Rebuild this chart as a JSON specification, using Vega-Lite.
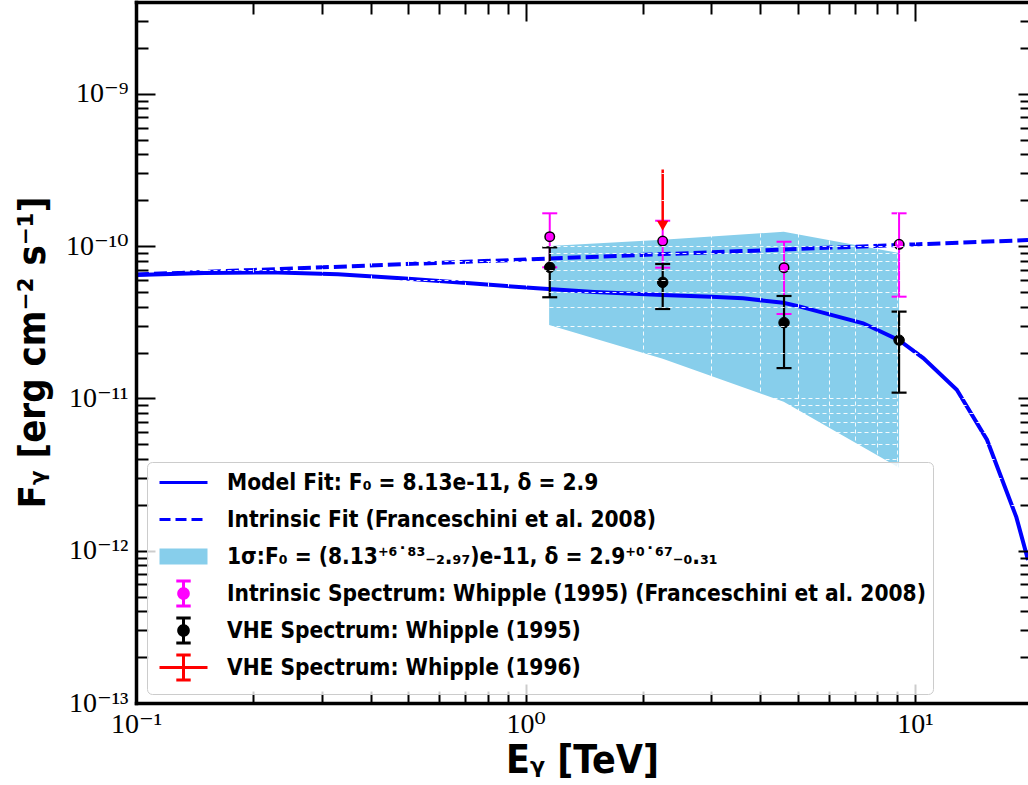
{
 "$schema": "https://vega.github.io/schema/vega-lite/v6.json",
 "width": 892, "height": 701,
 "padding": {"left": 136, "top": 2, "right": 0, "bottom": 82},
 "autosize": {"type": "none"},
 "background": "white",
 "config": {"view": {"stroke": null}, "axis": {"domainColor": "black", "tickColor": "black", "labelColor": "black", "titleColor": "black", "grid": false}},
 "datasets": {
  "band": [
   {"E": 1.15, "lo": 3.03e-11, "hi": 1.0e-10, "series": "band"},
   {"E": 2.25, "lo": 1.82e-11, "hi": 1.1e-10, "series": "band"},
   {"E": 4.6, "lo": 9.5e-12, "hi": 1.24e-10, "series": "band"},
   {"E": 9.1, "lo": 3.5e-12, "hi": 9.0e-11, "series": "band"}
  ],
  "model": [
   {"E": 0.1, "F": 6.45e-11}, {"E": 0.15, "F": 6.65e-11}, {"E": 0.22, "F": 6.73e-11},
   {"E": 0.33, "F": 6.52e-11}, {"E": 0.49, "F": 6.13e-11}, {"E": 0.72, "F": 5.69e-11},
   {"E": 1.07, "F": 5.28e-11}, {"E": 1.5, "F": 5.0e-11}, {"E": 2.25, "F": 4.77e-11},
   {"E": 3.0, "F": 4.65e-11}, {"E": 3.62, "F": 4.54e-11}, {"E": 4.59, "F": 4.24e-11},
   {"E": 5.07, "F": 4.0e-11}, {"E": 7.36, "F": 3.11e-11}, {"E": 9.1, "F": 2.41e-11},
   {"E": 10.5, "F": 1.84e-11}, {"E": 12.8, "F": 1.14e-11}, {"E": 15.3, "F": 5.35e-12},
   {"E": 18.2, "F": 1.66e-12}, {"E": 19.5, "F": 8.7e-13}
  ],
  "intr": [
   {"E": 0.1, "F": 6.5e-11}, {"E": 1.0, "F": 8.16e-11}, {"E": 10.0, "F": 1.025e-10}, {"E": 19.5, "F": 1.094e-10}
  ],
  "pts": [
   {"s": "m", "E": 1.154, "F": 1.151e-10, "lo": 7.25e-11, "hi": 1.64e-10},
   {"s": "m", "E": 2.25, "F": 1.078e-10, "lo": 7.21e-11, "hi": 1.466e-10},
   {"s": "m", "E": 4.61, "F": 7.21e-11, "lo": 3.58e-11, "hi": 1.067e-10},
   {"s": "m", "E": 9.1, "F": 1.026e-10, "lo": 4.65e-11, "hi": 1.64e-10},
   {"s": "k", "E": 1.154, "F": 7.25e-11, "lo": 4.61e-11, "hi": 9.8e-11},
   {"s": "k", "E": 2.25, "F": 5.78e-11, "lo": 3.86e-11, "hi": 7.62e-11},
   {"s": "k", "E": 4.61, "F": 3.14e-11, "lo": 1.58e-11, "hi": 4.7e-11},
   {"s": "k", "E": 9.1, "F": 2.41e-11, "lo": 1.09e-11, "hi": 3.71e-11}
  ],
  "red": [
   {"E": 2.25, "top": 3.18e-10, "bot": 1.38e-10, "tip": 1.36e-10}
  ]
 },
 "resolve": {"axis": {"x": "independent", "y": "independent"}},
 "layer": [
  {
   "data": {"name": "band"},
   "mark": {"type": "area", "opacity": 1, "color": "#87ceeb"},
   "encoding": {
    "x": {"field": "E", "type": "quantitative", "scale": {"type": "log", "domain": [0.1, 19.5], "nice": false},
     "axis": {"orient": "bottom", "values": [0.1, 1, 10], "labelExpr": "datum.value < 0.5 ? '10⁻¹' : datum.value < 5 ? '10⁰' : '10¹'", "ticks": false, "tickSize": 0, "labelPadding": 7, "labelFont": "Liberation Serif, DejaVu Serif, serif", "labelFontSize": 28, "labelFlush": false, "labelOverlap": false, "labelBound": false, "domain": true, "domainWidth": 3.5, "domainCap": "square", "title": "Eᵧ [TeV]", "titleFont": "DejaVu Sans Condensed, DejaVu Sans, sans-serif", "titleFontSize": 39, "titleFontWeight": "bold", "titleX": 446, "titleY": 69, "titleBaseline": "alphabetic", "titleAlign": "center", "zindex": 1, "grid": false}},
    "y": {"field": "lo", "type": "quantitative", "scale": {"type": "log", "domain": [1e-13, 4e-9], "nice": false},
     "axis": {"orient": "left", "values": [1e-13, 1e-12, 1e-11, 1e-10, 1e-9], "labelExpr": "datum.value < 5e-13 ? '10⁻¹³' : datum.value < 5e-12 ? '10⁻¹²' : datum.value < 5e-11 ? '10⁻¹¹' : datum.value < 5e-10 ? '10⁻¹⁰' : '10⁻⁹'", "ticks": false, "tickSize": 0, "labelPadding": 8, "labelFont": "Liberation Serif, DejaVu Serif, serif", "labelFontSize": 28, "labelFlush": false, "labelOverlap": false, "labelBound": false, "domain": true, "domainWidth": 3.5, "domainCap": "square", "title": "Fᵧ [erg  cm⁻² s⁻¹]", "titleFont": "DejaVu Sans Condensed, DejaVu Sans, sans-serif", "titleFontSize": 38, "titleFontWeight": "bold", "titleX": -103, "titleY": 350, "titleAngle": -90, "titleBaseline": "middle", "titleAlign": "center", "zindex": 1, "grid": false}},
    "y2": {"field": "hi"}
   }
  },
  {
   "data": {"name": "model"},
   "mark": {"type": "line", "color": "#0000ff", "strokeWidth": 4, "clip": true},
   "encoding": {
    "x": {"field": "E", "type": "quantitative", "scale": {"type": "log", "domain": [0.1, 19.5], "nice": false},
     "axis": {"orient": "bottom", "values": [0.1, 1, 10], "labels": false, "domain": false, "ticks": true, "tickSize": -19, "tickWidth": 2, "title": null, "zindex": 1, "grid": false}},
    "y": {"field": "F", "type": "quantitative", "scale": {"type": "log", "domain": [1e-13, 4e-9], "nice": false},
     "axis": {"orient": "left", "values": [1e-13, 1e-12, 1e-11, 1e-10, 1e-9], "labels": false, "domain": false, "ticks": true, "tickSize": -19, "tickWidth": 2, "title": null, "zindex": 1, "grid": false}}
   }
  },
  {
   "data": {"name": "intr"},
   "mark": {"type": "line", "color": "#0000ff", "strokeWidth": 4, "strokeDash": [13, 5], "clip": true},
   "encoding": {
    "x": {"field": "E", "type": "quantitative", "scale": {"type": "log", "domain": [0.1, 19.5], "nice": false},
     "axis": {"orient": "bottom", "values": [0.2, 0.3, 0.4, 0.5, 0.6, 0.7, 0.8, 0.9, 2, 3, 4, 5, 6, 7, 8, 9], "labels": false, "domain": false, "ticks": true, "tickSize": -12, "tickWidth": 2, "title": null, "zindex": 1, "grid": false}},
    "y": {"field": "F", "type": "quantitative", "scale": {"type": "log", "domain": [1e-13, 4e-9], "nice": false},
     "axis": {"orient": "left", "values": [2e-13, 3e-13, 4e-13, 5e-13, 6e-13, 7e-13, 8e-13, 9e-13, 2e-12, 3e-12, 4e-12, 5e-12, 6e-12, 7e-12, 8e-12, 9e-12, 2e-11, 3e-11, 4e-11, 5e-11, 6e-11, 7e-11, 8e-11, 9e-11, 2e-10, 3e-10, 4e-10, 5e-10, 6e-10, 7e-10, 8e-10, 9e-10, 2e-9, 3e-9], "labels": false, "domain": false, "ticks": true, "tickSize": -12, "tickWidth": 2, "title": null, "zindex": 1, "grid": false}}
   }
  },
  {
   "data": {"name": "pts"},
   "transform": [{"filter": "datum.s == 'm'"}],
   "mark": {"type": "rule", "color": "#ff00ff", "strokeWidth": 2},
   "encoding": {
    "x": {"field": "E", "type": "quantitative", "scale": {"type": "log", "domain": [0.1, 19.5], "nice": false},
     "axis": {"orient": "top", "values": [0.1, 1, 10], "labels": false, "domain": true, "domainWidth": 3.5, "domainCap": "square", "ticks": true, "tickSize": -19, "tickWidth": 2, "title": null, "zindex": 1, "grid": false}},
    "y": {"field": "lo", "type": "quantitative", "scale": {"type": "log", "domain": [1e-13, 4e-9], "nice": false},
     "axis": {"orient": "right", "values": [1e-13, 1e-12, 1e-11, 1e-10, 1e-9], "labels": false, "domain": false, "ticks": true, "tickSize": -10, "tickWidth": 2, "title": null, "zindex": 1, "grid": false}},
    "y2": {"field": "hi"}
   }
  },
  {
   "data": {"name": "pts"},
   "transform": [{"filter": "datum.s == 'm'"}, {"fold": ["lo", "hi"], "as": ["end", "v"]}],
   "mark": {"type": "tick", "orient": "horizontal", "color": "#ff00ff", "size": 15, "thickness": 2, "opacity": 1},
   "encoding": {
    "x": {"field": "E", "type": "quantitative", "scale": {"type": "log", "domain": [0.1, 19.5], "nice": false},
     "axis": {"orient": "top", "values": [0.2, 0.3, 0.4, 0.5, 0.6, 0.7, 0.8, 0.9, 2, 3, 4, 5, 6, 7, 8, 9], "labels": false, "domain": false, "ticks": true, "tickSize": -12, "tickWidth": 2, "title": null, "zindex": 1, "grid": false}},
    "y": {"field": "v", "type": "quantitative", "scale": {"type": "log", "domain": [1e-13, 4e-9], "nice": false},
     "axis": {"orient": "right", "values": [2e-13, 3e-13, 4e-13, 5e-13, 6e-13, 7e-13, 8e-13, 9e-13, 2e-12, 3e-12, 4e-12, 5e-12, 6e-12, 7e-12, 8e-12, 9e-12, 2e-11, 3e-11, 4e-11, 5e-11, 6e-11, 7e-11, 8e-11, 9e-11, 2e-10, 3e-10, 4e-10, 5e-10, 6e-10, 7e-10, 8e-10, 9e-10, 2e-9, 3e-9], "labels": false, "domain": false, "ticks": true, "tickSize": -8, "tickWidth": 2, "title": null, "zindex": 1, "grid": false}}
   }
  },
  {
   "data": {"name": "pts"},
   "transform": [{"filter": "datum.s == 'k'"}],
   "mark": {"type": "rule", "color": "black", "strokeWidth": 2.2},
   "encoding": {
    "x": {"field": "E", "type": "quantitative", "scale": {"type": "log", "domain": [0.1, 19.5], "nice": false},
     "axis": {"orient": "bottom", "values": [2, 3, 4, 5, 6, 7, 8, 9, 0.2, 0.3, 0.4, 0.5, 0.6, 0.7, 0.8, 0.9, 1, 10], "labels": false, "domain": false, "ticks": false, "grid": true, "gridColor": "white", "gridDash": [4, 3], "gridWidth": 0.9, "gridOpacity": 1, "title": null, "zindex": 1}},
    "y": {"field": "lo", "type": "quantitative", "scale": {"type": "log", "domain": [1e-13, 4e-9], "nice": false},
     "axis": {"orient": "left", "values": [1e-13, 1e-12, 1e-11, 1e-10, 1e-9, 2e-13, 3e-13, 4e-13, 5e-13, 6e-13, 7e-13, 8e-13, 9e-13, 2e-12, 3e-12, 4e-12, 5e-12, 6e-12, 7e-12, 8e-12, 9e-12, 2e-11, 3e-11, 4e-11, 5e-11, 6e-11, 7e-11, 8e-11, 9e-11, 2e-10, 3e-10, 4e-10, 5e-10, 6e-10, 7e-10, 8e-10, 9e-10, 2e-9, 3e-9], "labels": false, "domain": false, "ticks": false, "grid": true, "gridColor": "white", "gridDash": [4, 3], "gridWidth": 0.9, "gridOpacity": 1, "title": null, "zindex": 1}},
    "y2": {"field": "hi"}
   }
  },
  {
   "data": {"name": "pts"},
   "transform": [{"filter": "datum.s == 'k'"}, {"fold": ["lo", "hi"], "as": ["end", "v"]}],
   "mark": {"type": "tick", "orient": "horizontal", "color": "black", "size": 15, "thickness": 2.2, "opacity": 1},
   "encoding": {
    "x": {"field": "E", "type": "quantitative", "scale": {"type": "log", "domain": [0.1, 19.5], "nice": false}, "axis": null},
    "y": {"field": "v", "type": "quantitative", "scale": {"type": "log", "domain": [1e-13, 4e-9], "nice": false}, "axis": null}
   }
  },
  {
   "data": {"name": "pts"},
   "transform": [{"filter": "datum.s == 'm'"}],
   "mark": {"type": "point", "shape": "circle", "filled": true, "fill": "#ff00ff", "stroke": "black", "strokeWidth": 1.5, "size": 90, "opacity": 1},
   "encoding": {
    "x": {"field": "E", "type": "quantitative", "scale": {"type": "log", "domain": [0.1, 19.5], "nice": false}, "axis": null},
    "y": {"field": "F", "type": "quantitative", "scale": {"type": "log", "domain": [1e-13, 4e-9], "nice": false}, "axis": null}
   }
  },
  {
   "data": {"name": "pts"},
   "transform": [{"filter": "datum.s == 'k'"}],
   "mark": {"type": "point", "shape": "circle", "filled": true, "fill": "black", "stroke": "black", "strokeWidth": 1, "size": 110, "opacity": 1},
   "encoding": {
    "x": {"field": "E", "type": "quantitative", "scale": {"type": "log", "domain": [0.1, 19.5], "nice": false}, "axis": null},
    "y": {"field": "F", "type": "quantitative", "scale": {"type": "log", "domain": [1e-13, 4e-9], "nice": false}, "axis": null}
   }
  },
  {
   "data": {"name": "red"},
   "mark": {"type": "rule", "color": "#ff0000", "strokeWidth": 2.5},
   "encoding": {
    "x": {"field": "E", "type": "quantitative", "scale": {"type": "log", "domain": [0.1, 19.5], "nice": false}, "axis": null},
    "y": {"field": "top", "type": "quantitative", "scale": {"type": "log", "domain": [1e-13, 4e-9], "nice": false}, "axis": null},
    "y2": {"field": "bot"}
   }
  },
  {
   "data": {"name": "red"},
   "mark": {"type": "point", "shape": "triangle-down", "filled": true, "fill": "#ff0000", "strokeWidth": 0, "size": 130, "opacity": 1},
   "encoding": {
    "x": {"field": "E", "type": "quantitative", "scale": {"type": "log", "domain": [0.1, 19.5], "nice": false}, "axis": null},
    "y": {"field": "tip", "type": "quantitative", "scale": {"type": "log", "domain": [1e-13, 4e-9], "nice": false}, "axis": null}
   }
  },
  {
   "data": {"name": "band"},
   "mark": {"type": "point", "size": 0, "opacity": 1, "strokeWidth": 3},
   "encoding": {
    "x": {"field": "E", "type": "quantitative", "scale": {"type": "log", "domain": [0.1, 19.5], "nice": false}, "axis": null},
    "y": {"field": "lo", "type": "quantitative", "scale": {"type": "log", "domain": [1e-13, 4e-9], "nice": false}, "axis": null},
    "shape": {"field": "series", "type": "nominal",
     "scale": {"domain": ["model", "intr", "band", "mag", "vhe95", "vhe96"],
      "range": ["M-2,0H2", "M-2,0H2", "M-2,-0.67H2V0.67H-2Z", "M0,-1.05V1.05M-0.6,-1.05H0.6M-0.6,1.05H0.6M0.4,0A0.4,0.4 0 1 1 -0.4,0A0.4,0.4 0 1 1 0.4,0Z", "M0,-1.05V1.05M-0.6,-1.05H0.6M-0.6,1.05H0.6M0.4,0A0.4,0.4 0 1 1 -0.4,0A0.4,0.4 0 1 1 0.4,0Z", "M-2,0H2M0,-1.05V1.05M-0.6,-1.05H0.6M-0.6,1.05H0.6"]},
     "legend": {"orient": "none", "legendX": 11, "legendY": 460, "title": null,
      "labelExpr": "datum.value == 'model' ? 'Model Fit: F₀ = 8.13e-11, δ = 2.9' : datum.value == 'intr' ? 'Intrinsic Fit (Franceschini et al. 2008)' : datum.value == 'band' ? '1σ:F₀ = (8.13⁺⁶˙⁸³₋₂.₉₇)e-11, δ = 2.9⁺⁰˙⁶⁷₋₀.₃₁' : datum.value == 'mag' ? 'Intrinsic Spectrum: Whipple (1995) (Franceschini et al. 2008)' : datum.value == 'vhe95' ? 'VHE Spectrum: Whipple (1995)' : 'VHE Spectrum: Whipple (1996)'",
      "labelFont": "DejaVu Sans Condensed, DejaVu Sans, sans-serif", "labelFontSize": 22.5, "labelFontWeight": "bold", "labelColor": "black", "labelLimit": 1000,
      "symbolSize": 576, "symbolStrokeWidth": 3, "symbolOpacity": 1, "gridAlign": "all", "rowPadding": -2, "padding": 7, "symbolOffset": 16, "labelOffset": 30,
      "cornerRadius": 5, "strokeColor": "#cccccc", "fillColor": "rgba(255,255,255,0.8)", "zindex": 2, "symbolLimit": 0}},
    "fill": {"field": "series", "type": "nominal",
     "scale": {"domain": ["model", "intr", "band", "mag", "vhe95", "vhe96"], "range": ["transparent", "transparent", "#87ceeb", "#ff00ff", "black", "transparent"]}},
    "stroke": {"field": "series", "type": "nominal",
     "scale": {"domain": ["model", "intr", "band", "mag", "vhe95", "vhe96"], "range": ["#0000ff", "#0000ff", "transparent", "#ff00ff", "black", "#ff0000"]}},
    "strokeDash": {"field": "series", "type": "nominal",
     "scale": {"domain": ["model", "intr", "band", "mag", "vhe95", "vhe96"], "range": [[1, 0], [11, 5], [1, 0], [1, 0], [1, 0], [1, 0]]}}
   }
  }
 ]
}
